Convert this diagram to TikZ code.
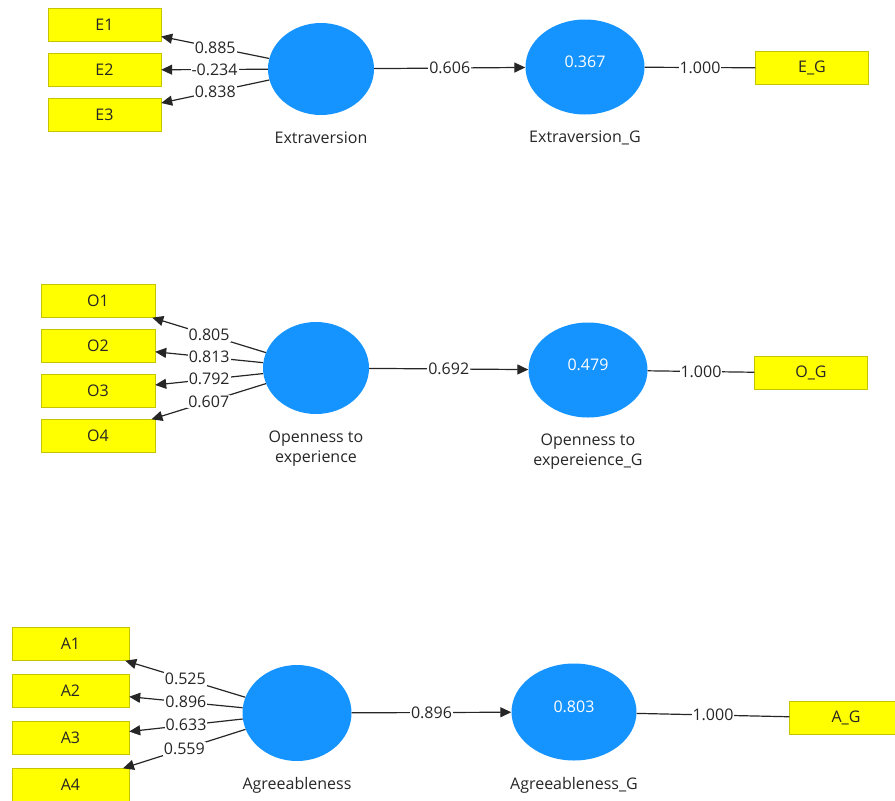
\documentclass[tikz,border=0pt]{standalone}
\usepackage{fontspec}
\setmainfont{Open Sans}
\usetikzlibrary{shapes.geometric,arrows.meta,positioning}
\definecolor{latentblue}{RGB}{21,147,255}
\definecolor{itemyellow}{RGB}{255,255,0}
\definecolor{itemborder}{RGB}{196,196,0}
\begin{document}
\begin{tikzpicture}[x=1pt, y=-1pt,
    font=\fontsize{16}{20}\selectfont,
    item/.style={draw=itemborder, fill=itemyellow, rectangle, minimum width=113pt, minimum height=33pt, inner sep=0pt, text=black!85},
    latent/.style={ellipse, fill=latentblue, minimum width=106pt, minimum height=92pt, inner sep=0pt},
    latentg/.style={latent, minimum width=119pt, minimum height=95pt},
    rsq/.style={text=white, inner sep=0pt},
    latname/.style={align=center, inner sep=0pt, text=black!85},
    coef/.style={fill=white, inner sep=1pt, text=black!85},
    link/.style={draw=black!85, line width=1.2pt},
    loadarrow/.style={link, -{Triangle[length=11pt,width=10pt]}}
]
    \useasboundingbox (0,0) rectangle (895,801);

    % Nodes
    \node (e1) [item] at (104.5,25) {E1};
    \node (e2) [item] at (104.5,70) {E2};
    \node (e3) [item] at (104.5,115) {E3};
    \node (ext) [latent] at (321,69) {};
    \node (extlab) [latname, below=16pt of ext] {Extraversion};
    \node (extg) [latentg] at (585,67) {};
    \node (extgr2) [rsq] at ([yshift=5pt]extg.center) {0.367};
    \node (extglab) [latname, below=16pt of extg] {Extraversion\_G};
    \node (eg) [item] at (812,68) {E\_G};

    \node (o1) [item, minimum width=114pt] at (98,301) {O1};
    \node (o2) [item, minimum width=114pt] at (98,346) {O2};
    \node (o3) [item, minimum width=114pt] at (98,391) {O3};
    \node (o4) [item, minimum width=114pt] at (98,436) {O4};
    \node (open) [latent] at (316,368) {};
    \node (openlab) [latname, below=16pt of open] {Openness to\\experience};
    \node (openg) [latentg] at (588,370) {};
    \node (opengr2) [rsq] at ([yshift=5pt]openg.center) {0.479};
    \node (openglab) [latname, below=16pt of openg] {Openness to\\expereience\_G};
    \node (og) [item] at (811,373) {O\_G};

    \node (a1) [item, minimum width=117pt] at (70.5,644) {A1};
    \node (a2) [item, minimum width=117pt] at (70.5,691) {A2};
    \node (a3) [item, minimum width=117pt] at (70.5,738) {A3};
    \node (a4) [item, minimum width=117pt] at (70.5,785) {A4};
    \node (agr) [latent, minimum width=109pt, minimum height=96pt] at (297,713) {};
    \node (agrlab) [latname, below=16pt of agr] {Agreeableness};
    \node (agrg) [latentg, minimum width=125pt, minimum height=97pt] at (574,712) {};
    \node (agrgr2) [rsq] at ([yshift=5pt]agrg.center) {0.803};
    \node (agrglab) [latname, below=16pt of agrg] {Agreeableness\_G};
    \node (ag) [item] at (846,718) {A\_G};

    % Arrows
    \draw [loadarrow] (ext) -- node[coef] {0.885} (e1);
    \draw [loadarrow] (ext) -- node[coef] {-0.234} (e2);
    \draw [loadarrow] (ext) -- node[coef] {0.838} (e3);
    \draw [loadarrow] (ext) -- node[coef] {0.606} (extg);
    \draw [link] (extg) -- node[coef] {1.000} (eg);

    \draw [loadarrow] (open) -- node[coef] {0.805} (o1);
    \draw [loadarrow] (open) -- node[coef] {0.813} (o2);
    \draw [loadarrow] (open) -- node[coef] {0.792} (o3);
    \draw [loadarrow] (open) -- node[coef] {0.607} (o4);
    \draw [loadarrow] (open) -- node[coef] {0.692} (openg);
    \draw [link] (openg) -- node[coef] {1.000} (og);

    \draw [loadarrow] (agr) -- node[coef] {0.525} (a1);
    \draw [loadarrow] (agr) -- node[coef] {0.896} (a2);
    \draw [loadarrow] (agr) -- node[coef] {0.633} (a3);
    \draw [loadarrow] (agr) -- node[coef] {0.559} (a4);
    \draw [loadarrow] (agr) -- node[coef] {0.896} (agrg);
    \draw [link] (agrg) -- node[coef] {1.000} (ag);

\end{tikzpicture}
\end{document}
